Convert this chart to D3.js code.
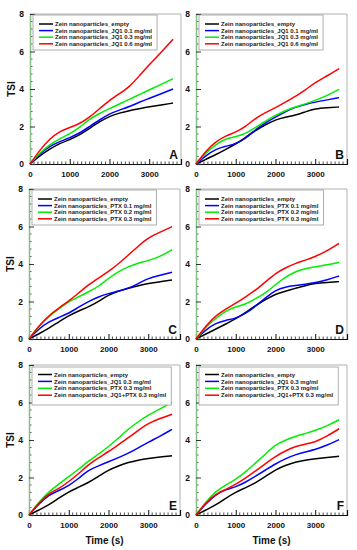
<!DOCTYPE html>
<html>
<head>
<meta charset="utf-8">
<script src="https://cdn.jsdelivr.net/npm/d3@7"></script>
<style>
  body { margin: 0; background: #fff; }
  text { font-family: Arial, "Liberation Sans", sans-serif; font-weight: bold; }
</style>
</head>
<body>
<div id="chart"></div>
<script>
var svgWidth = 357;
var svgHeight = 550;

// sampling times (s), shared by every curve
var times = [0, 250, 500, 750, 1000, 1250, 1500, 1750, 2000, 2250, 2500, 2750, 3000, 3300, 3600];

var xTicks = [0, 1000, 2000, 3000];
var yTicks = [0, 2, 4, 6, 8];
var panelLetters = ['A', 'B', 'C', 'D', 'E', 'F'];
var seriesColors = ['#000000', '#0000ff', '#00ee00', '#ff0000'];

var namesJQ1 = ['Zein nanoparticles_empty', 'Zein nanoparticles_JQ1 0.1 mg/ml',
    'Zein nanoparticles_JQ1 0.3 mg/ml', 'Zein nanoparticles_JQ1 0.6 mg/ml'];
var namesPTX = ['Zein nanoparticles_empty', 'Zein nanoparticles_PTX 0.1 mg/ml',
    'Zein nanoparticles_PTX 0.2 mg/ml', 'Zein nanoparticles_PTX 0.3 mg/ml'];
var namesMix = ['Zein nanoparticles_empty', 'Zein nanoparticles_JQ1 0.3 mg/ml',
    'Zein nanoparticles_PTX 0.3 mg/ml', 'Zein nanoparticles_JQ1+PTX 0.3 mg/ml'];

// TSI values, one array per curve (order: black, blue, green, red)
var tsiA = [
    [0, 0.45, 0.8, 1.1, 1.3, 1.55, 1.9, 2.25, 2.55, 2.72, 2.85, 2.95, 3.05, 3.15, 3.25],
    [0, 0.55, 0.95, 1.2, 1.4, 1.65, 2.0, 2.35, 2.68, 2.88, 3.05, 3.3, 3.5, 3.75, 4.0],
    [0, 0.6, 1.05, 1.35, 1.6, 1.95, 2.4, 2.7, 2.95, 3.2, 3.45, 3.7, 3.95, 4.25, 4.55],
    [0, 0.75, 1.35, 1.75, 1.95, 2.15, 2.5, 2.95, 3.4, 3.75, 4.1, 4.7, 5.3, 5.95, 6.65]
];
var tsiB = [
    [0, 0.25, 0.5, 0.78, 1.07, 1.42, 1.8, 2.1, 2.36, 2.5, 2.6, 2.78, 2.95, 3.0, 3.04],
    [0, 0.45, 0.8, 0.95, 1.07, 1.35, 1.85, 2.2, 2.5, 2.78, 3.04, 3.18, 3.3, 3.42, 3.54],
    [0, 0.6, 1.05, 1.35, 1.45, 1.62, 1.95, 2.3, 2.6, 2.85, 3.05, 3.2, 3.4, 3.65, 3.98],
    [0, 0.7, 1.2, 1.5, 1.7, 2.0, 2.45, 2.75, 3.0, 3.3, 3.6, 3.95, 4.35, 4.7, 5.09]
];
var tsiC = [
    [0, 0.28, 0.57, 0.92, 1.24, 1.5, 1.72, 2.0, 2.35, 2.55, 2.7, 2.85, 2.97, 3.05, 3.15],
    [0, 0.55, 0.92, 1.15, 1.37, 1.7, 2.0, 2.25, 2.43, 2.55, 2.7, 2.95, 3.24, 3.4, 3.56],
    [0, 0.7, 1.2, 1.6, 2.0, 2.25, 2.52, 2.8, 3.24, 3.6, 3.86, 4.05, 4.18, 4.4, 4.76],
    [0, 0.7, 1.25, 1.65, 2.03, 2.45, 2.9, 3.25, 3.6, 4.0, 4.48, 4.95, 5.4, 5.7, 5.99]
];
var tsiD = [
    [0, 0.27, 0.53, 0.8, 1.07, 1.42, 1.78, 2.1, 2.4, 2.55, 2.7, 2.85, 2.97, 3.02, 3.06],
    [0, 0.5, 0.85, 1.0, 1.1, 1.35, 1.75, 2.2, 2.6, 2.78, 2.85, 2.92, 3.0, 3.15, 3.36],
    [0, 0.65, 1.1, 1.5, 1.72, 1.85, 2.15, 2.45, 2.9, 3.3, 3.6, 3.75, 3.85, 3.95, 4.09],
    [0, 0.7, 1.25, 1.6, 1.9, 2.25, 2.6, 3.05, 3.5, 3.8, 4.03, 4.2, 4.4, 4.7, 5.1]
];
var tsiE = [
    [0, 0.27, 0.53, 0.9, 1.24, 1.48, 1.74, 2.05, 2.4, 2.62, 2.81, 2.93, 3.02, 3.1, 3.16],
    [0, 0.6, 1.07, 1.3, 1.56, 1.95, 2.4, 2.62, 2.84, 3.06, 3.29, 3.58, 3.88, 4.2, 4.57],
    [0, 0.7, 1.24, 1.65, 2.04, 2.45, 2.88, 3.25, 3.64, 4.1, 4.59, 4.98, 5.33, 5.65, 6.01],
    [0, 0.65, 1.16, 1.4, 1.78, 2.2, 2.7, 3.05, 3.38, 3.75, 4.12, 4.52, 4.89, 5.15, 5.37]
];
var tsiF = [
    [0, 0.27, 0.53, 0.9, 1.22, 1.46, 1.72, 2.05, 2.42, 2.65, 2.83, 2.93, 3.0, 3.07, 3.13],
    [0, 0.6, 1.1, 1.36, 1.49, 1.75, 2.07, 2.4, 2.73, 3.0, 3.22, 3.36, 3.49, 3.72, 4.02],
    [0, 0.7, 1.27, 1.6, 1.89, 2.3, 2.78, 3.25, 3.75, 4.0, 4.19, 4.35, 4.5, 4.75, 5.08],
    [0, 0.65, 1.13, 1.36, 1.63, 1.98, 2.34, 2.75, 3.13, 3.42, 3.66, 3.78, 3.89, 4.2, 4.6]
];

// panel layout: plot rectangles in pixels
var panels = [
    { x: 30, y: 14, data: tsiA, names: namesJQ1 },
    { x: 196, y: 14, data: tsiB, names: namesJQ1 },
    { x: 29, y: 189, data: tsiC, names: namesPTX },
    { x: 196, y: 189, data: tsiD, names: namesPTX },
    { x: 29, y: 365, data: tsiE, names: namesMix },
    { x: 196, y: 365, data: tsiF, names: namesMix }
];
var plotW = 151;
var plotH = 150;

var svg = d3.select('#chart')
    .append('svg')
    .attr('width', svgWidth)
    .attr('height', svgHeight);

var xScale = d3.scaleLinear().domain([0, 3800]).range([0, plotW]);
var yScale = d3.scaleLinear().domain([0, 8]).range([plotH, 0]);

var line = d3.line()
    .x(function (d) { return xScale(d[0]); })
    .y(function (d) { return yScale(d[1]); })
    .curve(d3.curveBasis);

panels.forEach(function (p, i) {
    var g = svg.append('g')
        .attr('transform', `translate(${p.x}, ${p.y})`);

    // light frame on top and right
    g.append('path')
        .attr('d', `M0,0H${plotW}V${plotH}`)
        .attr('fill', 'none')
        .attr('stroke', '#b0b0b0')
        .attr('stroke-width', 1);

    // minor ticks, drawn inward
    var xMinor = d3.range(0, 3701, 100).filter(function (t) { return t % 1000 !== 0; });
    g.selectAll('.xminor')
        .data(xMinor)
        .enter()
        .append('line')
        .attr('x1', d => xScale(d)).attr('x2', d => xScale(d))
        .attr('y1', plotH).attr('y2', plotH - 2.5)
        .attr('stroke', '#222').attr('stroke-width', 0.8);

    var yMinor = d3.range(0.4, 8, 0.4).filter(function (v) { return Math.abs(v / 2 - Math.round(v / 2)) > 0.01; });
    g.selectAll('.yminor')
        .data(yMinor)
        .enter()
        .append('line')
        .attr('x1', 0).attr('x2', 2.5)
        .attr('y1', d => yScale(d)).attr('y2', d => yScale(d))
        .attr('stroke', '#333').attr('stroke-width', 0.8);

    // bottom axis with major ticks
    var bottomAxis = d3.axisBottom(xScale)
        .tickValues(xTicks)
        .tickFormat(d3.format('d'))
        .tickSize(-5)
        .tickPadding(7);
    var xAxis = g.append('g')
        .attr('transform', `translate(0, ${plotH})`)
        .call(bottomAxis);
    xAxis.select('.domain').attr('stroke', '#111').attr('stroke-width', 1.2);
    xAxis.selectAll('.tick line').attr('stroke', '#111').attr('stroke-width', 1);
    xAxis.selectAll('.tick text')
        .attr('font-size', '8px')
        .attr('font-family', 'Arial, "Liberation Sans", sans-serif')
        .attr('font-weight', 'bold')
        .attr('fill', '#111');

    // left axis
    var leftAxis = d3.axisLeft(yScale)
        .tickValues(yTicks)
        .tickSize(-5)
        .tickPadding(6);
    var yAxis = g.append('g').call(leftAxis);
    yAxis.select('.domain').attr('stroke', '#86bd86').attr('stroke-width', 1.5);
    yAxis.selectAll('.tick line').attr('stroke', '#333').attr('stroke-width', 1);
    yAxis.selectAll('.tick text')
        .attr('font-size', '8.5px')
        .attr('font-family', 'Arial, "Liberation Sans", sans-serif')
        .attr('font-weight', 'bold')
        .attr('fill', '#111');

    // curves
    p.data.forEach(function (vals, k) {
        var pts = times.map(function (t, j) { return [t, vals[j]]; });
        g.append('path')
            .datum(pts)
            .attr('d', line)
            .attr('fill', 'none')
            .attr('stroke', seriesColors[k])
            .attr('stroke-width', 1.5);
    });

    // legend
    var wide = i >= 4;
    var leg = g.append('g')
        .attr('transform', `translate(3, ${wide ? 2 : 1})`);
    var box = leg.append('rect')
        .attr('x', 0).attr('y', 0)
        .attr('height', wide ? 38 : 35)
        .attr('fill', '#fff')
        .attr('stroke', '#999')
        .attr('stroke-width', 0.8);
    var rowY = wide ? 7.5 : 9;
    var rowStep = wide ? 6.9 : 6.6;
    var maxW = 0;
    p.names.forEach(function (name, k) {
        var yy = rowY + k * rowStep;
        leg.append('line')
            .attr('x1', 6).attr('x2', 20)
            .attr('y1', yy).attr('y2', yy)
            .attr('stroke', seriesColors[k])
            .attr('stroke-width', 1.5);
        var t = leg.append('text')
            .attr('x', 22)
            .attr('y', yy)
            .attr('dy', '0.35em')
            .attr('font-size', '6px')
            .attr('fill', '#222')
            .text(name);
        maxW = Math.max(maxW, t.node().getComputedTextLength());
    });
    box.attr('width', 22 + maxW + 5);

    // panel letter
    g.append('text')
        .attr('x', plotW - 3)
        .attr('y', plotH - 5)
        .attr('text-anchor', 'end')
        .attr('font-size', '12px')
        .attr('fill', '#111')
        .text(panelLetters[i]);

    // y label on left column
    if (i % 2 === 0) {
        g.append('text')
            .attr('transform', `translate(${-19}, ${plotH / 2}) rotate(-90)`)
            .attr('text-anchor', 'middle')
            .attr('dy', '0.35em')
            .attr('font-size', '10px')
            .attr('fill', '#111')
            .text('TSI');
    }

    // x label on bottom row
    if (i >= 4) {
        g.append('text')
            .attr('x', plotW / 2)
            .attr('y', plotH + 29)
            .attr('text-anchor', 'middle')
            .attr('font-size', '10px')
            .attr('fill', '#111')
            .text('Time (s)');
    }
});
</script>
</body>
</html>
